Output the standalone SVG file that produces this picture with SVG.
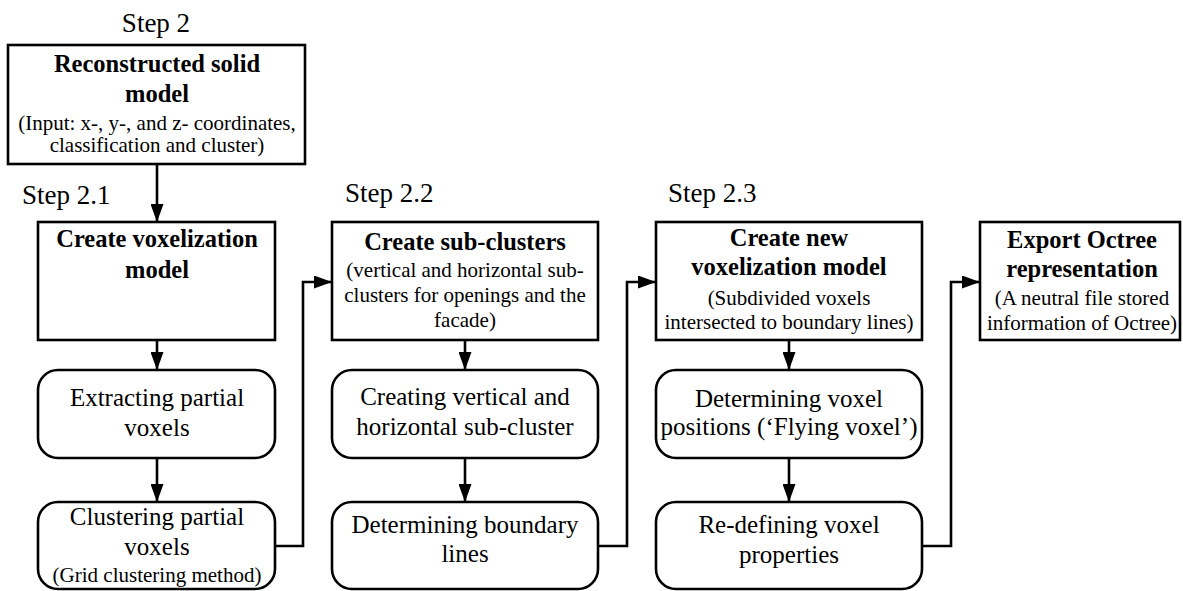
<svg xmlns="http://www.w3.org/2000/svg" width="1183" height="591" viewBox="0 0 1183 591">
<defs>
<style>
text{font-family:'Liberation Serif','Times New Roman','DejaVu Serif',serif;fill:#000}
.box{fill:#fff;stroke:#000;stroke-width:2.6}
.step{font-size:27px}
.t{font-size:25px;text-anchor:middle}
.b{font-size:24.5px;font-weight:bold;text-anchor:middle}
.s{font-size:21px;text-anchor:middle}
.c{fill:none;stroke:#000;stroke-width:2.6}
</style>
<marker id="ah" markerUnits="userSpaceOnUse" markerWidth="18" markerHeight="13" refX="18" refY="6.5" orient="auto">
<path d="M0,0 L18,6.5 L0,13 z" fill="#000"/>
</marker>
</defs>
<rect width="1183" height="591" fill="#fff"/>
<g id="labels" font-family="Liberation Serif, serif">
<text class="step" x="156" y="32" text-anchor="middle">Step 2</text>
<text class="step" x="22" y="204">Step 2.1</text>
<text class="step" x="345" y="202">Step 2.2</text>
<text class="step" x="668" y="202">Step 2.3</text>
</g>
<g id="n0">
<rect class="box" x="8" y="45" width="297" height="119"/>
<text class="b" x="157" y="72">Reconstructed solid</text>
<text class="b" x="157" y="102">model</text>
<text class="s" x="157" y="130">(Input: x-, y-, and z- coordinates,</text>
<text class="s" x="157" y="152">classification and cluster)</text>
</g>
<g id="n1">
<rect class="box" x="38" y="222" width="237" height="118"/>
<text class="b" x="157" y="247">Create voxelization</text>
<text class="b" x="157" y="278">model</text>
</g>
<g id="n2">
<rect class="box" x="38" y="370" width="237" height="88" rx="20"/>
<text class="t" x="157" y="406">Extracting partial</text>
<text class="t" x="157" y="436">voxels</text>
</g>
<g id="n3">
<rect class="box" x="38" y="502" width="237" height="87" rx="20"/>
<text class="t" x="157" y="525">Clustering partial</text>
<text class="t" x="157" y="555">voxels</text>
<text class="s" x="157" y="582">(Grid clustering method)</text>
</g>
<g id="n4">
<rect class="box" x="332" y="222" width="266" height="118"/>
<text class="b" x="465" y="250">Create sub-clusters</text>
<text class="s" x="465" y="277">(vertical and horizontal sub-</text>
<text class="s" x="465" y="302">clusters for openings and the</text>
<text class="s" x="465" y="327">facade)</text>
</g>
<g id="n5">
<rect class="box" x="332" y="370" width="266" height="88" rx="20"/>
<text class="t" x="465" y="405">Creating vertical and</text>
<text class="t" x="465" y="435">horizontal sub-cluster</text>
</g>
<g id="n6">
<rect class="box" x="332" y="502" width="266" height="87" rx="20"/>
<text class="t" x="465" y="533">Determining boundary</text>
<text class="t" x="465" y="562">lines</text>
</g>
<g id="n7">
<rect class="box" x="656" y="222" width="266" height="118"/>
<text class="b" x="789" y="246">Create new</text>
<text class="b" x="789" y="275">voxelization model</text>
<text class="s" x="789" y="305">(Subdivided voxels</text>
<text class="s" x="789" y="329">intersected to boundary lines)</text>
</g>
<g id="n8">
<rect class="box" x="656" y="370" width="266" height="88" rx="20"/>
<text class="t" x="789" y="407">Determining voxel</text>
<text class="t" x="789" y="435">positions (‘Flying voxel’)</text>
</g>
<g id="n9">
<rect class="box" x="656" y="502" width="266" height="87" rx="20"/>
<text class="t" x="789" y="533">Re-defining voxel</text>
<text class="t" x="789" y="563">properties</text>
</g>
<g id="n10">
<rect class="box" x="980" y="222" width="200" height="118"/>
<text class="b" x="1082" y="248">Export Octree</text>
<text class="b" x="1082" y="277">representation</text>
<text class="s" x="1082" y="305">(A neutral file stored</text>
<text class="s" x="1082" y="330">information of Octree)</text>
</g>
<g id="connectors">
<path class="c" d="M157,164 V222" marker-end="url(#ah)"/>
<path class="c" d="M157,340 V370" marker-end="url(#ah)"/>
<path class="c" d="M157,458 V502" marker-end="url(#ah)"/>
<path class="c" d="M275,546 H303 V282 H332" marker-end="url(#ah)"/>
<path class="c" d="M465,340 V370" marker-end="url(#ah)"/>
<path class="c" d="M465,458 V502" marker-end="url(#ah)"/>
<path class="c" d="M598,546 H627 V282 H656" marker-end="url(#ah)"/>
<path class="c" d="M789,340 V370" marker-end="url(#ah)"/>
<path class="c" d="M789,458 V502" marker-end="url(#ah)"/>
<path class="c" d="M922,546 H951 V282 H980" marker-end="url(#ah)"/>
</g>
</svg>
